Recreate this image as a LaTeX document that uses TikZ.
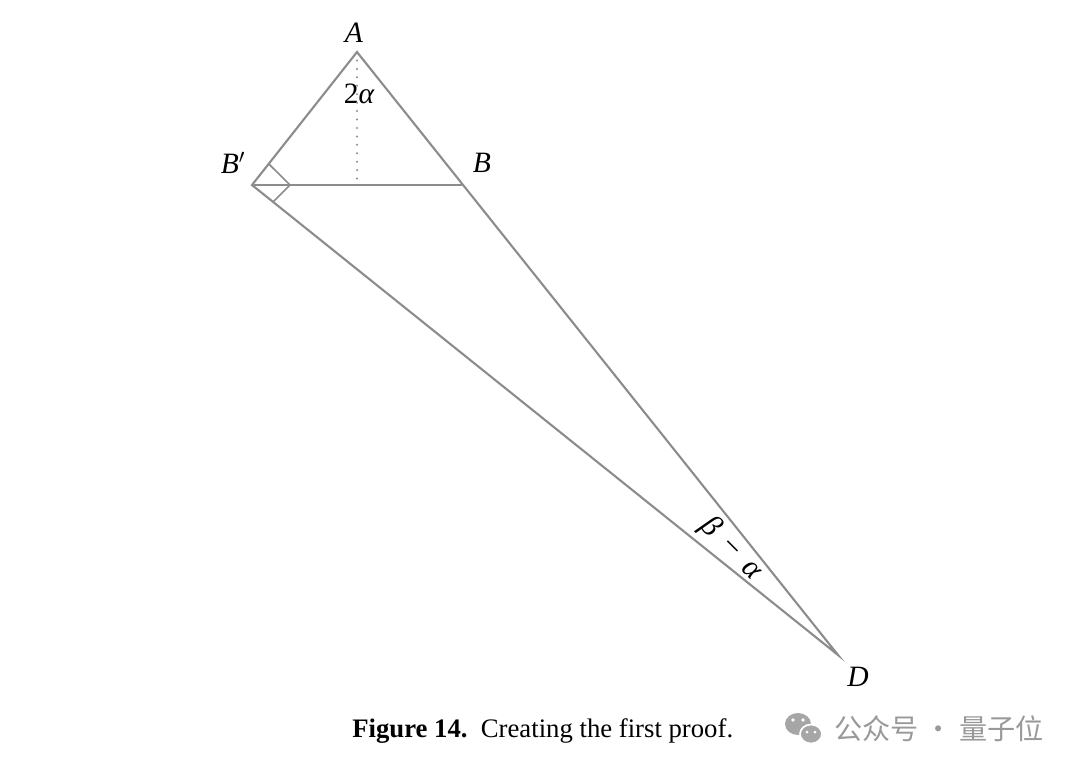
\documentclass[tikz,border=0pt]{standalone}
\usepackage{fontspec}
\setmainfont{Liberation Serif}
\newfontfamily\cjkfont{Noto Sans CJK SC}
\usepackage{tikz}
\usetikzlibrary{positioning,calc}

\begin{document}
\begin{tikzpicture}[x=0.025cm,y=-0.025cm,
	edge/.style={draw=black!45, line width=1.5pt},
	vlabel/.style={font=\fontsize{21}{25}\selectfont\itshape, inner sep=0pt},
	]
	\useasboundingbox (0,0) rectangle (1080,772);
	%Points
	\coordinate (A)  at (357,52);
	\coordinate (Bp) at (252,185);
	\coordinate (B)  at (462,185);
	\coordinate (D)  at (838,655);
	\coordinate (H)  at (357,185);
	\coordinate (Sa) at ($(Bp)!0.675cm!(A)$);
	\coordinate (Sd) at ($(Bp)!0.675cm!(D)$);
	\coordinate (Sm) at (290,185);
	%Labels
	\node[vlabel] (lA)  at (354,33)  {A};
	\node[vlabel] (lBp) at (233,163) {B$'$};
	\node[vlabel] (lB)  at (482,163) {B};
	\node[vlabel] (lD)  at (858,677) {D};
	\node[vlabel] (ang1) at (359,94) {\upshape 2\itshape α};
	\node[vlabel, rotate=-45, font=\fontsize{22}{26}\selectfont\itshape] (ang2) at (731,549) {β\, \upshape −\, \itshape α};
	\node[font=\fontsize{19}{23}\selectfont, anchor=west, inner sep=0pt] (cap) at (352,731)
		{\textbf{Figure 14.}\ \ Creating the first proof.};
	\node[font=\cjkfont\fontsize{20}{24}\selectfont, text=black!40, anchor=west, inner sep=0pt] (wm) at (834,729)
		{公众号 · 量子位};
	%Icon
	\fill[black!35] (798,724) ellipse (13 and 11);
	\fill[black!35, draw=white, line width=1.2pt] (811,734) ellipse (11 and 9.5);
	\fill[white] (793,720) circle (1.8) (803,720) circle (1.8) (807,732) circle (1.5) (815,732) circle (1.5);
	%Lines
	\draw[edge] (A) -- (Bp) -- (D) -- cycle;
	\draw[edge] (Bp) -- (B);
	\draw[black!45, line width=1.6pt, line cap=round, dash pattern=on 0pt off 6pt] (A) -- (H);
	\draw[edge, line width=1.2pt] (Sa) -- (Sm) -- (Sd);
\end{tikzpicture}
\end{document}
